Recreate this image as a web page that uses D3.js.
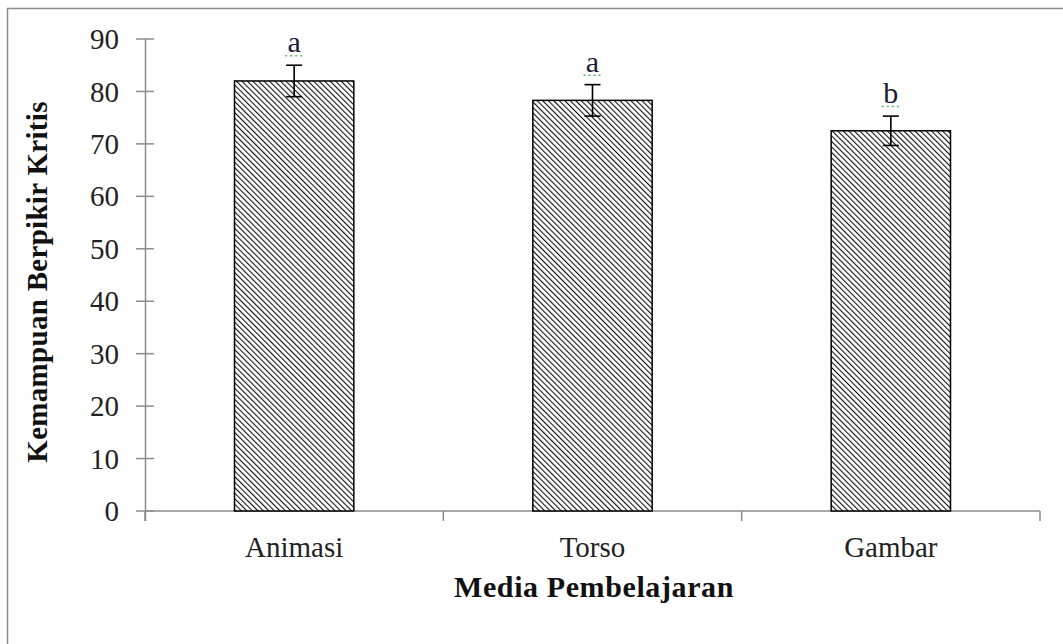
<!DOCTYPE html>
<html>
<head>
<meta charset="utf-8">
<script src="https://cdn.jsdelivr.net/npm/d3@7"></script>
<style>
  body { margin: 0; background: #fff; }
  svg { display: block; }
</style>
</head>
<body>
<svg id="chart"></svg>
<script>
(() => {
    const width = 1063;
    const height = 644;

    // data
    const categories = ["Animasi", "Torso", "Gambar"];
    const means = [82, 78.3, 72.5];
    const errors = [3, 3, 2.8];
    const letters = ["a", "a", "b"];
    const yTicks = [0, 10, 20, 30, 40, 50, 60, 70, 80, 90];

    const svg = d3.select("#chart")
        .attr("width", width)
        .attr("height", height);

    const font = "'Liberation Serif', 'Times New Roman', serif";
    const axisColor = "#8c8c8c";

    // hatch pattern for the bars
    const hs = 3.9;
    const defs = svg.append("defs");
    defs.append("pattern")
        .attr("id", "hatch")
        .attr("patternUnits", "userSpaceOnUse")
        .attr("width", hs)
        .attr("height", hs)
        .attr("patternTransform", "rotate(-45)")
        .call(p => {
            p.append("rect").attr("width", hs).attr("height", hs).attr("fill", "#fff");
            p.append("line")
                .attr("x1", 0).attr("y1", 0)
                .attr("x2", 0).attr("y2", hs)
                .attr("stroke", "#111")
                .attr("stroke-width", 2.2);
        });

    // outer frame (cut off at right and bottom like the original)
    svg.append("rect")
        .attr("x", 7.5)
        .attr("y", 8.5)
        .attr("width", 1080)
        .attr("height", 660)
        .attr("fill", "none")
        .attr("stroke", "#8c8c8c")
        .attr("stroke-width", 1.5);

    const x = d3.scaleBand()
        .domain(categories)
        .range([145, 1040])
        .paddingInner(0.6)
        .paddingOuter(0.3);

    const y = d3.scaleLinear()
        .domain([0, 90])
        .range([511, 39]);

    // y axis
    const yAxis = svg.append("g");
    yAxis.append("line")
        .attr("x1", 145.5).attr("x2", 145.5)
        .attr("y1", y(90)).attr("y2", y(0) + 10)
        .attr("stroke", axisColor)
        .attr("stroke-width", 1.5);
    yAxis.selectAll(".ytick")
        .data(yTicks)
        .enter()
        .append("line")
        .attr("class", "ytick")
        .attr("x1", 136).attr("x2", 154)
        .attr("y1", d => y(d)).attr("y2", d => y(d))
        .attr("stroke", axisColor)
        .attr("stroke-width", 1.5);
    yAxis.selectAll(".ylabel")
        .data(yTicks)
        .enter()
        .append("text")
        .attr("class", "ylabel")
        .attr("x", 119)
        .attr("y", d => y(d))
        .attr("dy", "0.35em")
        .attr("text-anchor", "end")
        .attr("font-family", font)
        .attr("font-size", "29px")
        .attr("fill", "#222")
        .text(d => d);

    // x axis
    const xBounds = [145, 145 + (1040 - 145) / 3, 145 + 2 * (1040 - 145) / 3, 1040];
    svg.append("line")
        .attr("x1", 145).attr("x2", 1040)
        .attr("y1", y(0)).attr("y2", y(0))
        .attr("stroke", axisColor)
        .attr("stroke-width", 1.5);
    svg.selectAll(".xtick")
        .data(xBounds)
        .enter()
        .append("line")
        .attr("class", "xtick")
        .attr("x1", d => d).attr("x2", d => d)
        .attr("y1", y(0)).attr("y2", y(0) + 10)
        .attr("stroke", axisColor)
        .attr("stroke-width", 1.5);
    svg.selectAll(".xlabel")
        .data(categories)
        .enter()
        .append("text")
        .attr("class", "xlabel")
        .attr("x", d => x(d) + x.bandwidth() / 2)
        .attr("y", 557)
        .attr("text-anchor", "middle")
        .attr("font-family", font)
        .attr("font-size", "29px")
        .attr("fill", "#222")
        .text(d => d);

    // bars
    svg.selectAll(".bar")
        .data(categories)
        .enter()
        .append("rect")
        .attr("class", "bar")
        .attr("x", d => x(d))
        .attr("y", (d, i) => y(means[i]))
        .attr("width", x.bandwidth())
        .attr("height", (d, i) => y(0) - y(means[i]))
        .attr("fill", "url(#hatch)")
        .attr("stroke", "#000")
        .attr("stroke-width", 1.5);

    // error bars
    const err = svg.append("g");
    categories.forEach((c, i) => {
        const cx = x(c) + x.bandwidth() / 2;
        const top = y(means[i] + errors[i]);
        const bot = y(means[i] - errors[i]);
        err.append("line")
            .attr("x1", cx).attr("x2", cx)
            .attr("y1", top).attr("y2", bot)
            .attr("stroke", "#000").attr("stroke-width", 1.6);
        [top, bot].forEach(yy => {
            err.append("line")
                .attr("x1", cx - 8).attr("x2", cx + 8)
                .attr("y1", yy).attr("y2", yy)
                .attr("stroke", "#000").attr("stroke-width", 1.6);
        });
    });

    // significance letters
    svg.selectAll(".letter")
        .data(categories)
        .enter()
        .append("text")
        .attr("class", "letter")
        .attr("x", d => x(d) + x.bandwidth() / 2)
        .attr("y", (d, i) => y(means[i] + errors[i]) - 13)
        .attr("text-anchor", "middle")
        .attr("font-family", font)
        .attr("font-size", "30px")
        .attr("fill", "#1a1a3a")
        .text((d, i) => letters[i]);

    // little green dotted underlines under the letters
    svg.selectAll(".dots")
        .data(categories)
        .enter()
        .append("line")
        .attr("class", "dots")
        .attr("x1", d => x(d) + x.bandwidth() / 2 - 9)
        .attr("x2", d => x(d) + x.bandwidth() / 2 + 10)
        .attr("y1", (d, i) => y(means[i] + errors[i]) - 9.5)
        .attr("y2", (d, i) => y(means[i] + errors[i]) - 9.5)
        .attr("stroke", "#5cb85c")
        .attr("stroke-width", 1.5)
        .attr("stroke-dasharray", "2,3");

    // axis titles
    svg.append("text")
        .attr("x", 594)
        .attr("y", 597)
        .attr("text-anchor", "middle")
        .attr("font-family", font)
        .attr("font-weight", "bold")
        .attr("font-size", "30px")
        .attr("letter-spacing", "0.6px")
        .attr("fill", "#111")
        .text("Media Pembelajaran");

    svg.append("text")
        .attr("transform", "translate(47,282) rotate(-90)")
        .attr("text-anchor", "middle")
        .attr("font-family", font)
        .attr("font-weight", "bold")
        .attr("font-size", "29px")
        .attr("letter-spacing", "0.3px")
        .attr("fill", "#111")
        .text("Kemampuan Berpikir Kritis");
})();
</script>
</body>
</html>
